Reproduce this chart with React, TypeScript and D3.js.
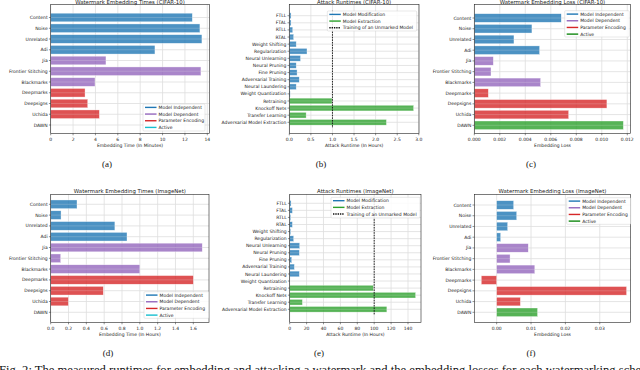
import React from 'react';
import * as d3 from 'd3';

// watermark schemes (panels a, c, d, f)
const embedCategories = ['Content', 'Noise', 'Unrelated', 'Adi', 'Jia', 'Frontier Stitching', 'Blackmarks', 'Deepmarks', 'Deepsigns', 'Uchida', 'DAWN'];
const embedGroups = [0, 0, 0, 0, 1, 1, 1, 2, 2, 2, 3];
const cifarEmbedMinutes = [12.66, 13.34, 13.52, 9.32, 4.94, 13.43, 3.96, 3.07, 3.31, 4.35, 0];
const cifarEmbedLoss = [0.00682, 0.00452, 0.00311, 0.00512, 0.00149, 0.00131, 0.0052, 0.0011, 0.0104, 0.0074, 0.01169];
const imagenetEmbedHours = [0.295, 0.116, 0.72, 0.856, 1.7, 0.112, 1.0, 1.6, 0.59, 0.198, 0];
const imagenetEmbedLoss = [0.00495, 0.00583, 0.0032, 0.00117, 0.0092, 0.0039, 0.0111, -0.00447, 0.0378, 0.0069, 0.0119];
const embedLegend = ['Model Independent', 'Model Dependent', 'Parameter Encoding', 'Active'];

// attacks (panels b, e)
const attackCategories = ['FTLL', 'FTAL', 'RTLL', 'RTAL', 'Weight Shifting', 'Regularization', 'Neural Unlearning', 'Neural Pruning', 'Fine Pruning', 'Adversarial Training', 'Neural Laundering', 'Weight Quantization', 'Retraining', 'Knockoff Nets', 'Transfer Learning', 'Adversarial Model Extraction'];
const attackGroups = [0, 0, 0, 0, 0, 0, 0, 0, 0, 0, 0, 0, 1, 1, 1, 1];
const cifarAttackHours = [0.04, 0.04, 0.08, 0.1, 0.16, 0.41, 0.26, 0.16, 0.18, 0.23, 0.16, 0.02, 0.99, 2.88, 0.39, 2.25];
const imagenetAttackHours = [1.6, 3.2, 1.2, 3.2, 1.2, 4.7, 11.8, 11.4, 2.4, 5.5, 11.4, 0.3, 99, 149, 15, 115];
const attackLegend = ['Model Modification', 'Model Extraction', 'Training of an Unmarked Model'];
const cifarUnmarked = 1.0;
const imagenetUnmarked = 100;

const ticksA = [0, 2, 4, 6, 8, 10, 12, 14];
const ticksB = [0, 0.5, 1, 1.5, 2, 2.5, 3];
const ticksC = [0, 0.002, 0.004, 0.006, 0.008, 0.01, 0.012];
const ticksD = [0, 0.2, 0.4, 0.6, 0.8, 1.0, 1.2, 1.4, 1.6];
const ticksE = [0, 20, 40, 60, 80, 100, 120, 140];
const ticksF = [0, 0.01, 0.02, 0.03];

const BLUE = '#1f77b4', PURPLE = '#9467bd', RED = '#d62728', GREEN = '#2ca02c', CYAN = '#17becf';
const FONT = 'DejaVu Sans';

const Panel = ({ p }: { p: any }) => {
  const x = d3.scaleLinear().domain(p.domain).range([p.left, p.right]);
  const y = d3.scaleLinear().domain([0, p.categories.length - 1]).range([p.firstY, p.lastY]);
  const band = (p.lastY - p.firstY) / (p.categories.length - 1);
  const bh = band * 0.8;
  const fmt = d3.format(p.fmt);
  const cx = (p.left + p.right) / 2;
  return (
    <g fontFamily={FONT}>
      {/* grid */}
      {p.ticks.map((t: number) => (
        <line key={'gx' + t} x1={x(t)} x2={x(t)} y1={p.top} y2={p.bottom} stroke="#dedede" strokeWidth={0.8} />
      ))}
      {p.categories.map((c: string, i: number) => (
        <line key={'gy' + c} x1={p.left} x2={p.right} y1={y(i)} y2={y(i)} stroke="#dedede" strokeWidth={0.8} />
      ))}
      {/* bars */}
      {p.values.map((v: number, i: number) => (
        <rect key={'b' + i} x={x(Math.min(0, v))} width={Math.abs(x(v) - x(0))} y={y(i) - bh / 2} height={bh}
          fill={p.colors[p.groups[i]]} fillOpacity={0.8} stroke="#fff" strokeOpacity={0.7} strokeWidth={0.5} />
      ))}
      {p.values.map((v: number, i: number) => (
        <line key={'o' + i} x1={x(Math.min(0, v))} x2={x(Math.max(0, v))} y1={y(i)} y2={y(i)} stroke="#fff" strokeOpacity={0.3} strokeWidth={0.7} />
      ))}
      {p.vline !== undefined && (
        <line x1={x(p.vline)} x2={x(p.vline)} y1={y(-0.7)} y2={y(p.categories.length - 0.2)} stroke="#111" strokeWidth={0.9} strokeDasharray="1.6,1" />
      )}
      {/* spines */}
      <rect x={p.left} y={p.top} width={p.right - p.left} height={p.bottom - p.top} fill="none" stroke="#222" strokeWidth={0.6} />
      {/* y ticks */}
      {p.categories.map((c: string, i: number) => (
        <g key={'yt' + c}>
          <line x1={p.left - 1.8} x2={p.left} y1={y(i)} y2={y(i)} stroke="#222" strokeWidth={0.5} />
          <text x={p.left - 3} y={y(i)} dy="0.35em" textAnchor="end" fontSize={4.5} fill="#222">{c}</text>
        </g>
      ))}
      {/* x ticks */}
      {p.ticks.map((t: number) => (
        <g key={'xt' + t}>
          <line x1={x(t)} x2={x(t)} y1={p.bottom} y2={p.bottom + 1.8} stroke="#222" strokeWidth={0.5} />
          <text x={x(t)} y={p.bottom + 7} textAnchor="middle" fontSize={4.5} fill="#222">{fmt(t)}</text>
        </g>
      ))}
      <text x={cx} y={p.bottom + 13.7} textAnchor="middle" fontSize={4.5} fill="#222">{p.xLabel}</text>
      <text x={cx} y={p.top - 0.9} textAnchor="middle" fontSize={5.4} fill="#222">{p.title}</text>
      <text x={p.captionX} y={p.bottom + 33.5} textAnchor="middle" fontFamily="Liberation Serif" fontSize={9} fill="#111">{p.caption}</text>
      {/* legend */}
      <rect x={p.legend.x} y={p.legend.y} width={p.legend.w} height={p.legend.h} rx={1} fill="#fff" fillOpacity={0.85} stroke="#d0d0d0" strokeWidth={0.5} />
      {p.legendNames.map((n: string, i: number) => {
        const ly = p.legend.y + 3.4 + i * 6.67;
        return (
          <g key={'l' + n}>
            <line x1={p.legend.x + 2} x2={p.legend.x + 13.5} y1={ly} y2={ly} stroke={p.legendColors[i]} strokeWidth={1.4}
              strokeDasharray={p.legendDash && p.legendDash[i] ? p.legendDash[i] : undefined} />
            <text x={p.legend.x + 15.5} y={ly} dy="0.35em" fontSize={4.5} fill="#222">{n}</text>
          </g>
        );
      })}
    </g>
  );
};

const topRow = { top: 4.5, bottom: 133.5 };
const botRow = { top: 194.3, bottom: 322.5 };

const panels = [
  {
    title: 'Watermark Embedding Times (CIFAR-10)', xLabel: 'Embedding Time (In Minutes)', caption: '(a)', captionX: 107,
    categories: embedCategories, groups: embedGroups, values: cifarEmbedMinutes,
    colors: [BLUE, PURPLE, RED, CYAN], legendNames: embedLegend, legendColors: [BLUE, PURPLE, RED, CYAN],
    ticks: ticksA, fmt: 'd', left: 50.7, right: 209.3, ...topRow, domain: [0, 14.18],
    firstY: 17.5, lastY: 125, legend: { x: 143, y: 104, w: 62, h: 27 },
  },
  {
    title: 'Attack Runtimes (CIFAR-10)', xLabel: 'Attack Runtime (In Hours)', caption: '(b)', captionX: 321,
    categories: attackCategories, groups: attackGroups, values: cifarAttackHours,
    colors: [BLUE, GREEN], legendNames: attackLegend, legendColors: [BLUE, GREEN, '#111'], legendDash: [null, null, '1.4,0.9'],
    ticks: ticksB, fmt: '.1f', left: 289.3, right: 419, ...topRow, domain: [0, 3.005],
    firstY: 15.7, lastY: 122.3, legend: { x: 327.3, y: 11, w: 89.4, h: 20 }, vline: cifarUnmarked,
  },
  {
    title: 'Watermark Embedding Loss (CIFAR-10)', xLabel: 'Embedding Loss', caption: '(c)', captionX: 531,
    categories: embedCategories, groups: embedGroups, values: cifarEmbedLoss,
    colors: [BLUE, PURPLE, RED, GREEN], legendNames: embedLegend, legendColors: [BLUE, PURPLE, RED, '#118811'],
    ticks: ticksC, fmt: '.3f', left: 474.3, right: 630.7, ...topRow, domain: [0, 0.012267],
    firstY: 18, lastY: 125.3, legend: { x: 564.7, y: 10.7, w: 64.6, h: 26.3 },
  },
  {
    title: 'Watermark Embedding Times (ImageNet)', xLabel: 'Embedding Time (In Hours)', caption: '(d)', captionX: 108,
    categories: embedCategories, groups: embedGroups, values: imagenetEmbedHours,
    colors: [BLUE, PURPLE, RED, CYAN], legendNames: embedLegend, legendColors: [BLUE, PURPLE, RED, CYAN],
    ticks: ticksD, fmt: '.1f', left: 50.7, right: 209, ...botRow, domain: [0, 1.776],
    firstY: 204.3, lastY: 312.3, legend: { x: 144, y: 291.7, w: 64.7, h: 26.6 },
  },
  {
    title: 'Attack Runtimes (ImageNet)', xLabel: 'Attack Runtime (In Hours)', caption: '(e)', captionX: 319,
    categories: attackCategories, groups: attackGroups, values: imagenetAttackHours,
    colors: [BLUE, GREEN], legendNames: attackLegend, legendColors: [BLUE, GREEN, '#111'], legendDash: [null, null, '1.4,0.9'],
    ticks: ticksE, fmt: 'd', left: 289.7, right: 421, ...botRow, domain: [0, 155.4],
    firstY: 203.3, lastY: 309.3, legend: { x: 331, y: 197.3, w: 89, h: 20.7 }, vline: imagenetUnmarked,
  },
  {
    title: 'Watermark Embedding Loss (ImageNet)', xLabel: 'Embedding Loss', caption: '(f)', captionX: 531,
    categories: embedCategories, groups: embedGroups, values: imagenetEmbedLoss,
    colors: [BLUE, PURPLE, RED, GREEN], legendNames: embedLegend, legendColors: [BLUE, PURPLE, RED, '#118811'],
    ticks: ticksF, fmt: '.2f', left: 474.3, right: 630.7, ...botRow, domain: [-0.0065, 0.039],
    firstY: 205, lastY: 312.3, legend: { x: 566.7, y: 197.7, w: 64, h: 26.6 },
  },
];

const figCaption = 'Fig. 2: The measured runtimes for embedding and attacking a watermark and the embedding losses for each watermarking scheme.';

export default function App() {
  return (
    <svg width={640} height={370} style={{ position: 'absolute', left: 0, top: 0, background: '#fff' }}>
      <rect width={640} height={370} fill="#fff" />
      {panels.map((p) => <Panel key={p.caption} p={p} />)}
      <text x={-1} y={374} fontFamily="Liberation Serif" fontSize={12.6} fill="#111">{figCaption}</text>
    </svg>
  );
}
